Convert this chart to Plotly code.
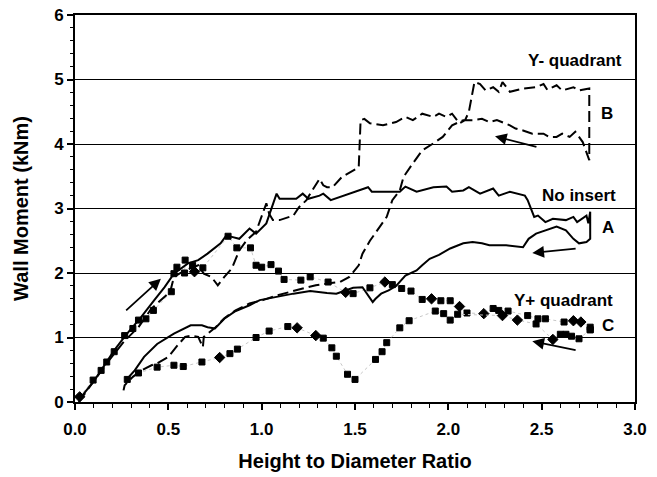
import plotly.graph_objects as go

# ---- No insert (solid): loading, vertical drop at end, unloading ----
noins_x = [0.025, 0.105, 0.16, 0.21, 0.27, 0.355, 0.43, 0.48, 0.53, 0.605, 0.66, 0.71, 0.78, 0.81, 0.84, 0.88,
           0.935, 0.97, 1.025, 1.08, 1.096, 1.185, 1.22, 1.25, 1.31, 1.33, 1.37, 1.47, 1.57, 1.59, 1.74, 1.77,
           1.83, 1.92, 1.99, 2.02, 2.08, 2.11, 2.17, 2.24, 2.27, 2.33, 2.41, 2.425, 2.46, 2.48, 2.52, 2.56, 2.63,
           2.67, 2.69, 2.74, 2.75, 2.76, 2.76,
           2.74, 2.70, 2.67, 2.63, 2.58, 2.52, 2.47, 2.43, 2.40, 2.31, 2.22, 2.18, 2.13, 2.08, 2.01, 1.95, 1.90,
           1.86, 1.83, 1.77, 1.72, 1.68, 1.64, 1.61, 1.595, 1.54, 1.49, 1.43, 1.40, 1.35, 1.26, 1.17, 1.08, 0.99,
           0.935, 0.855, 0.80, 0.75, 0.71, 0.68, 0.62, 0.53, 0.44, 0.37, 0.32, 0.28]
noins_y = [0.05, 0.34, 0.58, 0.80, 1.03, 1.32, 1.60, 1.78, 1.99, 2.15, 2.20, 2.30, 2.46, 2.58, 2.56, 2.53,
           2.69, 2.61, 2.77, 3.23, 3.15, 3.15, 3.23, 3.15, 3.20, 3.23, 3.13, 3.23, 3.33, 3.26, 3.26, 3.34,
           3.26, 3.33, 3.34, 3.26, 3.28, 3.33, 3.23, 3.31, 3.20, 3.26, 3.20, 3.13, 2.87, 2.89, 2.79, 2.84, 2.82,
           2.87, 2.79, 2.89, 2.77, 2.95, 2.53,
           2.48, 2.46, 2.53, 2.66, 2.72, 2.66, 2.61, 2.53, 2.40, 2.43, 2.43, 2.46, 2.48, 2.46, 2.38, 2.28, 2.22,
           2.12, 2.04, 1.96, 1.80, 1.73, 1.68, 1.60, 1.55, 1.78, 1.77, 1.71, 1.68, 1.69, 1.72, 1.68, 1.63, 1.58,
           1.50, 1.40, 1.29, 1.14, 1.16, 1.19, 1.19, 1.06, 0.90, 0.70, 0.49, 0.36]

# ---- Y- quadrant (dashed) ----
yminus_x = [0.02, 0.10, 0.17, 0.266, 0.34, 0.41, 0.46, 0.51, 0.53, 0.59, 0.66, 0.69, 0.73, 0.765, 0.80, 0.84,
            0.88, 0.92, 0.97, 1.006, 1.025, 1.04, 1.06, 1.096, 1.17, 1.20, 1.24, 1.26, 1.31, 1.33, 1.35, 1.38,
            1.43, 1.51, 1.52, 1.53, 1.55, 1.58, 1.65, 1.72, 1.77, 1.81, 1.86, 1.92, 1.95, 1.99, 2.02, 2.06,
            2.09, 2.11, 2.14, 2.17, 2.20, 2.24, 2.27, 2.29, 2.33, 2.40, 2.47, 2.51, 2.53, 2.58, 2.61, 2.67,
            2.70, 2.755, 2.755,
            2.72, 2.68, 2.65, 2.61, 2.58, 2.54, 2.51, 2.45, 2.40, 2.36, 2.33, 2.29, 2.26, 2.22, 2.18, 2.13,
            2.08, 2.02, 1.97, 1.92, 1.86, 1.81, 1.76, 1.74, 1.70, 1.67, 1.63, 1.58, 1.54, 1.52, 1.47, 1.42,
            1.36, 1.29, 1.22, 1.15, 1.08, 1.006, 0.935, 0.86, 0.80, 0.75, 0.69, 0.685, 0.66, 0.62, 0.59, 0.55,
            0.50, 0.44, 0.41, 0.355, 0.31, 0.266, 0.26]
yminus_y = [0.00, 0.33, 0.60, 0.95, 1.16, 1.45, 1.58, 1.71, 1.94, 2.04, 2.12, 1.99, 1.94, 1.81, 1.94, 2.07,
            2.35, 2.51, 2.64, 2.92, 3.08, 2.92, 2.82, 2.82, 2.89, 3.02, 3.13, 3.23, 3.46, 3.36, 3.33, 3.33,
            3.49, 3.62, 3.64, 4.37, 4.39, 4.32, 4.29, 4.34, 4.42, 4.37, 4.47, 4.42, 4.47, 4.42, 4.47, 4.32,
            4.37, 4.50, 4.96, 4.93, 4.83, 4.88, 4.81, 4.96, 4.81, 4.86, 4.88, 4.93, 4.84, 4.91, 4.83, 4.88,
            4.83, 4.86, 3.75,
            4.03, 4.19, 4.11, 4.16, 4.11, 4.11, 4.16, 4.16, 4.21, 4.24, 4.29, 4.34, 4.37, 4.34, 4.39, 4.37,
            4.37, 4.29, 4.11, 4.01, 3.90, 3.70, 3.49, 3.28, 3.13, 2.87, 2.71, 2.50, 2.30, 2.12, 1.94, 1.86,
            1.84, 1.81, 1.76, 1.71, 1.65, 1.58, 1.53, 1.42, 1.30, 1.15, 1.01, 0.85, 1.01, 1.03, 1.01, 0.88,
            0.70, 0.60, 0.57, 0.49, 0.39, 0.26, 0.18]

# ---- Y+ quadrant (markers + faint dotted line): loading branch ----
yplus_load_x = [0.025, 0.097, 0.14, 0.17, 0.21, 0.266, 0.31, 0.34, 0.38, 0.42, 0.516, 0.53, 0.546, 0.587, 0.59,
                0.63, 0.64, 0.685, 0.82, 0.867, 0.94, 0.97, 1.0, 1.05, 1.09, 1.12, 1.21, 1.26, 1.356, 1.45,
                1.49, 1.58, 1.66, 1.70, 1.75, 1.80, 1.86, 1.91, 1.96, 2.01, 2.06, 2.10, 2.19, 2.24, 2.27, 2.32,
                2.425, 2.48, 2.52, 2.62, 2.67, 2.71, 2.76, 2.76]
yplus_load_y = [0.08, 0.34, 0.49, 0.62, 0.78, 1.03, 1.14, 1.27, 1.29, 1.42, 1.71, 1.99, 2.09, 2.00, 2.20,
                2.12, 2.02, 2.08, 2.57, 2.39, 2.39, 2.12, 2.09, 2.13, 2.03, 1.90, 1.89, 1.94, 1.86, 1.70,
                1.68, 1.77, 1.86, 1.82, 1.76, 1.72, 1.59, 1.60, 1.57, 1.57, 1.48, 1.38, 1.37, 1.45, 1.42, 1.41,
                1.34, 1.29, 1.29, 1.24, 1.26, 1.24, 1.16, 1.12]
yplus_load_kind = ["d", "s", "s", "s", "s", "s", "s", "s", "s", "s", "s", "s", "s", "s", "s",
                   "s", "d", "s", "s", "s", "s", "s", "s", "s", "s", "s", "s", "s", "s", "d",
                   "s", "s", "d", "s", "s", "s", "s", "d", "s", "s", "d", "s", "d", "s", "s", "s",
                   "s", "s", "s", "s", "d", "d", "s", "s"]

# ---- Y+ quadrant: unloading branch ----
yplus_unl_x = [2.76, 2.70, 2.66, 2.63, 2.60, 2.56, 2.47, 2.37, 2.29, 2.05, 2.01, 1.975, 1.93, 1.79, 1.74, 1.67,
               1.645, 1.61, 1.50, 1.46, 1.40, 1.376, 1.33, 1.29, 1.19, 1.14, 1.04, 0.97, 0.87, 0.83, 0.775,
               0.68, 0.58, 0.53, 0.44, 0.34, 0.28]
yplus_unl_y = [1.12, 0.98, 1.02, 1.05, 1.05, 0.97, 1.21, 1.27, 1.34, 1.36, 1.27, 1.37, 1.41, 1.26, 1.15, 0.92,
               0.78, 0.66, 0.35, 0.43, 0.71, 0.84, 0.99, 1.03, 1.15, 1.17, 1.10, 1.00, 0.82, 0.75, 0.69,
               0.62, 0.55, 0.57, 0.54, 0.45, 0.35]
yplus_unl_kind = ["s", "s", "s", "s", "s", "d", "s", "d", "d", "s", "s", "s", "s", "s", "s", "s",
                  "s", "s", "s", "s", "s", "s", "s", "d", "d", "s", "s", "s", "s", "s", "d",
                  "s", "s", "s", "s", "s", "s"]

# ---- labels and arrows (tail -> head) ----
labels = [("Y- quadrant", 2.94, 5.30, "right"), ("B", 2.85, 4.47, "center"),
          ("No insert", 2.91, 3.20, "right"), ("A", 2.855, 2.71, "center"),
          ("Y+ quadrant", 2.895, 1.58, "right"), ("C", 2.855, 1.19, "center")]
arrows = [((0.266, 1.40), (0.46, 1.91)), ((2.48, 3.95), (2.25, 4.12)),
          ((2.69, 2.38), (2.45, 2.31)), ((2.69, 0.80), (2.45, 0.94))]

x_title = "Height to Diameter Ratio"
y_title = "Wall Moment (kNm)"

FONT = "Liberation Sans, Arial, sans-serif"
sym = {"s": "square", "d": "diamond"}


def yplus_trace(xs, ys, kinds):
    return go.Scatter(x=xs, y=ys, mode="lines+markers",
                      line=dict(color="#c8c8c8", width=1, dash="dot"),
                      marker=dict(symbol=[sym[k] for k in kinds], opacity=1,
                                  size=[8 if k == "d" else 6 for k in kinds], color="black",
                                  line=dict(color="black", width=1)),
                      showlegend=False, hoverinfo="skip")


fig = go.Figure()
fig.add_trace(yplus_trace(yplus_load_x, yplus_load_y, yplus_load_kind))
fig.add_trace(yplus_trace(yplus_unl_x, yplus_unl_y, yplus_unl_kind))
fig.add_trace(go.Scatter(x=noins_x, y=noins_y, mode="lines",
                         line=dict(color="black", width=2), showlegend=False))
fig.add_trace(go.Scatter(x=yminus_x, y=yminus_y, mode="lines",
                         line=dict(color="black", width=2, dash="11px,5px"), showlegend=False))

for text, lx, ly, align in labels:
    fig.add_annotation(x=lx, y=ly, text=text, showarrow=False, xanchor=align, yanchor="middle",
                       font=dict(family=FONT, size=17, color="black", weight="bold"))

for (tx, ty), (hx, hy) in arrows:
    fig.add_annotation(x=hx, y=hy, ax=tx, ay=ty, xref="x", yref="y", axref="x", ayref="y",
                       text="", showarrow=True, arrowhead=2, arrowsize=1.3, arrowwidth=1.8,
                       arrowcolor="black")

fig.update_layout(
    width=657, height=477,
    margin=dict(l=75, r=22, t=15, b=75),
    plot_bgcolor="white", paper_bgcolor="white",
    font=dict(family=FONT, color="black"),
    showlegend=False,
    xaxis=dict(range=[0, 3.0], dtick=0.5, tick0=0, tickformat=".1f", automargin=False,
               ticks="outside", ticklen=6, tickwidth=1.5, tickcolor="black", ticklabelstandoff=5,
               minor=dict(dtick=0.1, ticks="outside", ticklen=4, tickwidth=1, tickcolor="black"),
               showline=True, linecolor="black", linewidth=2, mirror=True,
               showgrid=False, zeroline=False,
               tickfont=dict(family=FONT, size=17, weight="bold"),
               title=dict(text=x_title, font=dict(family=FONT, size=20, weight="bold"), standoff=16)),
    yaxis=dict(range=[0, 6], dtick=1, tick0=0, automargin=False,
               ticks="outside", ticklen=6, tickwidth=1.5, tickcolor="black",
               minor=dict(dtick=0.2, ticks="outside", ticklen=3, tickwidth=1, tickcolor="black"),
               showline=True, linecolor="black", linewidth=2, mirror=True,
               showgrid=True, gridcolor="black", gridwidth=1, zeroline=False,
               tickfont=dict(family=FONT, size=17, weight="bold"),
               title=dict(text=y_title, font=dict(family=FONT, size=20, weight="bold"), standoff=20)),
)

fig.write_html("out.html")
